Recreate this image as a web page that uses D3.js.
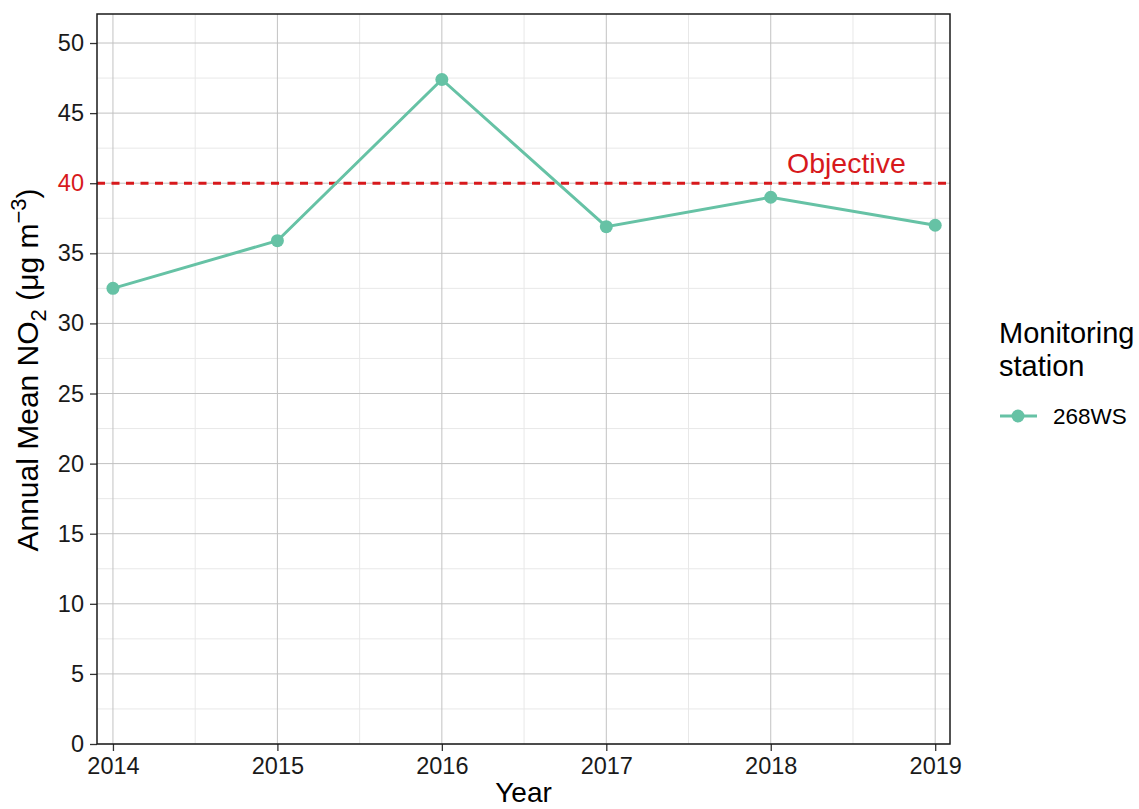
<!DOCTYPE html>
<html><head><meta charset="utf-8">
<script src="https://cdn.jsdelivr.net/npm/d3@7"></script>
<style>body{margin:0;background:#fff;font-family:"Liberation Sans",Arial,sans-serif;}</style>
</head><body>
<svg id="c" width="1139" height="809"></svg>
<script>
const years = [2014, 2015, 2016, 2017, 2018, 2019];
const values = [32.5, 35.9, 47.4, 36.9, 39.0, 37.0];
const yTicks = [0, 5, 10, 15, 20, 25, 30, 35, 40, 45, 50];
const yMinor = [2.5, 7.5, 12.5, 17.5, 22.5, 27.5, 32.5, 37.5, 42.5, 47.5];
const xMinor = [2014.5, 2015.5, 2016.5, 2017.5, 2018.5];
const objective = 40;
const seriesName = "268WS";

const svg = d3.select("#c");
const L = 97, R = 950, T = 14, B = 744;
const x = d3.scaleLinear().domain([2013.903, 2019.09]).range([L, R]);
const y = d3.scaleLinear().domain([0, 52.07]).range([B, T]);
const col = "#66c2a5", red = "#d7191c";
const FF = "Liberation Sans, Arial, sans-serif";

// grid
const g = svg.append("g");
g.selectAll(".ymin").data(yMinor).join("line").attr("x1", L).attr("x2", R)
  .attr("y1", d => y(d)).attr("y2", d => y(d)).attr("stroke", "#e8e8e8").attr("stroke-width", 1);
g.selectAll(".xmin").data(xMinor).join("line").attr("y1", T).attr("y2", B)
  .attr("x1", d => x(d)).attr("x2", d => x(d)).attr("stroke", "#e8e8e8").attr("stroke-width", 1);
g.selectAll(".ymaj").data(yTicks).join("line").attr("x1", L).attr("x2", R)
  .attr("y1", d => y(d)).attr("y2", d => y(d)).attr("stroke", "#c2c2c2").attr("stroke-width", 1);
g.selectAll(".xmaj").data(years).join("line").attr("y1", T).attr("y2", B)
  .attr("x1", d => x(d)).attr("x2", d => x(d)).attr("stroke", "#c2c2c2").attr("stroke-width", 1);

// objective line
svg.append("line").attr("x1", L).attr("x2", R).attr("y1", y(objective)).attr("y2", y(objective))
  .attr("stroke", red).attr("stroke-width", 3).attr("stroke-dasharray", "8,6.5");
svg.append("text").attr("x", x(2018.46)).attr("y", y(objective) - 10).attr("text-anchor", "middle")
  .attr("fill", red).attr("font-size", 28.5).text("Objective");

// series
const line = d3.line().x((d, i) => x(years[i])).y(d => y(d));
svg.append("path").datum(values).attr("d", line).attr("fill", "none")
  .attr("stroke", col).attr("stroke-width", 3);
svg.selectAll(".pt").data(values).join("circle").attr("cx", (d, i) => x(years[i]))
  .attr("cy", d => y(d)).attr("r", 6.5).attr("fill", col);

// axes
const ya = d3.axisLeft(y).tickValues(yTicks).tickSize(7).tickPadding(6);
const yg = svg.append("g").attr("transform", `translate(${L},0)`).call(ya);
yg.select(".domain").remove();
yg.selectAll(".tick line").attr("stroke", "#333").attr("stroke-width", 1.3);
yg.selectAll(".tick text").attr("font-size", 23.5).attr("font-family", FF)
  .attr("fill", d => d === objective ? red : "#1a1a1a");

const xa = d3.axisBottom(x).tickValues(years).tickFormat(d3.format("d")).tickSize(7).tickPadding(6);
const xg = svg.append("g").attr("transform", `translate(0,${B})`).call(xa);
xg.select(".domain").remove();
xg.selectAll(".tick line").attr("stroke", "#333").attr("stroke-width", 1.3);
xg.selectAll(".tick text").attr("font-size", 23.5).attr("font-family", FF).attr("fill", "#1a1a1a");

// panel border
svg.append("rect").attr("x", L).attr("y", T).attr("width", R - L).attr("height", B - T)
  .attr("fill", "none").attr("stroke", "#1a1a1a").attr("stroke-width", 1.5);

// axis titles
svg.append("text").attr("x", (L + R) / 2).attr("y", 802).attr("text-anchor", "middle")
  .attr("font-size", 28).attr("fill", "#000").text("Year");

const yt = svg.append("text").attr("transform", `translate(38,370) rotate(-90)`)
  .attr("text-anchor", "middle").attr("font-size", 30).attr("fill", "#000");
yt.append("tspan").text("Annual Mean NO");
yt.append("tspan").attr("font-size", 22).attr("dy", 8).text("2");
yt.append("tspan").attr("dy", -8).text(" (\u03bcg m");
yt.append("tspan").attr("font-size", 22).attr("dy", -12).text("\u22123");
yt.append("tspan").attr("dy", 12).text(")");

// legend
svg.append("text").attr("x", 999).attr("y", 343).attr("font-size", 29).attr("fill", "#000").text("Monitoring");
svg.append("text").attr("x", 999).attr("y", 376).attr("font-size", 29).attr("fill", "#000").text("station");
svg.append("line").attr("x1", 1000).attr("x2", 1037).attr("y1", 416).attr("y2", 416)
  .attr("stroke", col).attr("stroke-width", 3);
svg.append("circle").attr("cx", 1018).attr("cy", 416).attr("r", 6.5).attr("fill", col);
svg.append("text").attr("x", 1053).attr("y", 424).attr("font-size", 22.5).attr("fill", "#000").text(seriesName);
</script>
</body></html>
